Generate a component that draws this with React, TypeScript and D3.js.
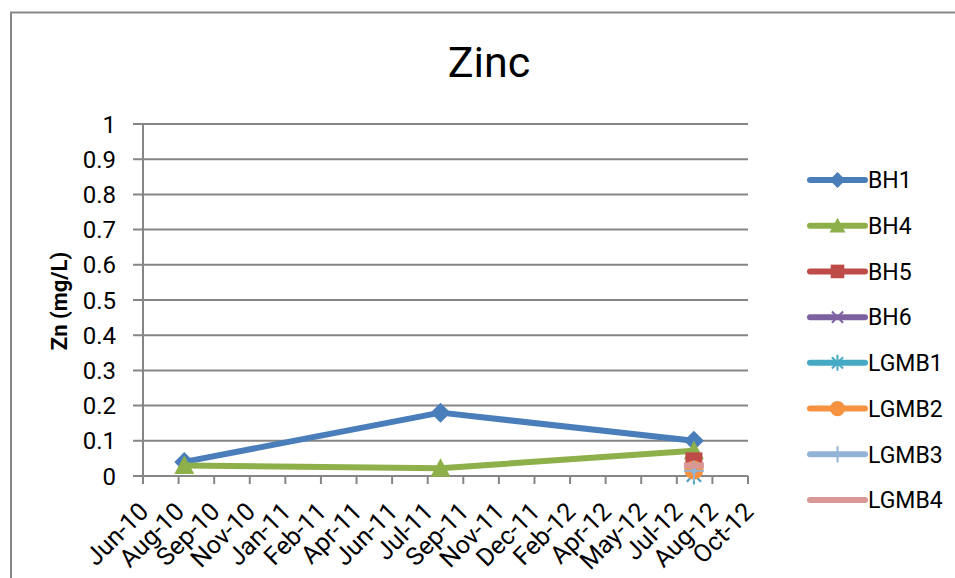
import React from "react";
import * as d3 from "d3";

const tickDates = [
  "2010-06-21", "2010-08-10", "2010-09-29", "2010-11-18", "2011-01-07", "2011-02-26",
  "2011-04-17", "2011-06-06", "2011-07-26", "2011-09-14", "2011-11-03", "2011-12-23",
  "2012-02-11", "2012-04-01", "2012-05-21", "2012-07-10", "2012-08-29", "2012-10-18",
];
const tickLabels = [
  "Jun-10", "Aug-10", "Sep-10", "Nov-10", "Jan-11", "Feb-11", "Apr-11", "Jun-11", "Jul-11",
  "Sep-11", "Nov-11", "Dec-11", "Feb-12", "Apr-12", "May-12", "Jul-12", "Aug-12", "Oct-12",
];
const yTicks = [0, 0.1, 0.2, 0.3, 0.4, 0.5, 0.6, 0.7, 0.8, 0.9, 1];

const sampleDates = ["2010-08-18", "2011-08-13", "2012-08-03"];
const seriesNames = ["BH1", "BH4", "BH5", "BH6", "LGMB1", "LGMB2", "LGMB3", "LGMB4"];
const bh1 = [0.04, 0.18, 0.1];
const bh4 = [0.03, 0.022, 0.072];
const bh5 = [null, null, 0.043];
const bh6 = [null, null, 0.004];
const lgmb1 = [null, null, 0.004];
const lgmb2 = [null, null, 0.017];
const lgmb3 = [null, null, 0.015];
const lgmb4 = [null, null, 0.03];
const seriesValues = [bh1, bh4, bh5, bh6, lgmb1, lgmb2, lgmb3, lgmb4];
const seriesColors = ["#4A7EBB", "#8EB04A", "#BE4B48", "#7D60A0", "#46AAC5", "#F69240", "#93B3D7", "#D99795"];
const seriesMarkers = ["diamond", "triangle", "square", "x", "star", "circle", "plus", "dash"];

const FONT = "Roboto, 'Noto Sans', sans-serif";

function Marker({ type, x, y, color, s }: { type: string; x: number; y: number; color: string; s: number }) {
  const h = s / 2;
  switch (type) {
    case "diamond":
      return <path d={`M${x},${y - h}L${x + h},${y}L${x},${y + h}L${x - h},${y}Z`} fill={color} />;
    case "triangle":
      return <path d={`M${x},${y - h}L${x + h},${y + h * 0.85}L${x - h},${y + h * 0.85}Z`} fill={color} />;
    case "square": {
      const q = h * 0.85;
      return <rect x={x - q} y={y - q} width={2 * q} height={2 * q} fill={color} />;
    }
    case "circle":
      return <circle cx={x} cy={y} r={h * 0.95} fill={color} />;
    case "x": {
      const q = h * 0.7;
      return <path d={`M${x - q},${y - q}L${x + q},${y + q}M${x - q},${y + q}L${x + q},${y - q}`} stroke={color} strokeWidth={2} />;
    }
    case "star": {
      const q = h * 0.7;
      return (
        <path
          d={`M${x - q},${y - q}L${x + q},${y + q}M${x - q},${y + q}L${x + q},${y - q}M${x},${y - h}L${x},${y + h}`}
          stroke={color}
          strokeWidth={2}
        />
      );
    }
    case "plus":
      return <path d={`M${x - h},${y}L${x + h},${y}M${x},${y - h}L${x},${y + h}`} stroke={color} strokeWidth={2} />;
    case "dash":
      return <rect x={x - h} y={y - 3} width={2 * h} height={6} fill={color} />;
    default:
      return null;
  }
}

export default function App() {
  const parse = d3.timeParse("%Y-%m-%d");
  const tDates = tickDates.map((d) => parse(d) as Date);
  const sDates = sampleDates.map((d) => parse(d) as Date);

  const x = d3.scaleTime().domain([tDates[0], tDates[tDates.length - 1]]).range([143, 748]);
  const y = d3.scaleLinear().domain([0, 1]).range([476, 124]);

  const lineGen = d3
    .line<[Date, number | null]>()
    .defined((d) => d[1] != null)
    .x((d) => x(d[0]))
    .y((d) => y(d[1] as number));

  const legendX0 = 810;
  const legendX1 = 865;
  const legendY = d3.scalePoint<string>().domain(seriesNames).range([180, 500]);

  return (
    <svg width={955} height={578} style={{ position: "absolute", left: 0, top: 0, background: "#fff" }} fontFamily={FONT}>
      <rect x={0} y={0} width={955} height={578} fill="#fff" />
      {/* chart border */}
      <path d="M11,600L11,12.5L980,12.5" fill="none" stroke="#888" strokeWidth={2} />

      {/* title */}
      <text x={489} y={77} textAnchor="middle" fontSize={43} fill="#000">
        Zinc
      </text>

      {/* gridlines */}
      {yTicks.map((t) => (
        <line key={"g" + t} x1={133} x2={748} y1={y(t)} y2={y(t)} stroke="#868686" strokeWidth={2} />
      ))}
      {/* y axis */}
      <line x1={143} x2={143} y1={y(1)} y2={y(0)} stroke="#868686" strokeWidth={2} />
      {yTicks.map((t) => (
        <text key={"yl" + t} x={116} y={y(t)} dy="0.36em" textAnchor="end" fontSize={24} fill="#000">
          {d3.format("")(t)}
        </text>
      ))}
      <text
        transform={`translate(67,${301}) rotate(-90)`}
        textAnchor="middle"
        fontSize={22}
        fontWeight="bold"
        fill="#000"
      >
        Zn (mg/L)
      </text>

      {/* x axis ticks */}
      {tDates.map((d, i) => (
        <line key={"xt" + i} x1={x(d)} x2={x(d)} y1={y(0)} y2={y(0) + 8} stroke="#868686" strokeWidth={2} />
      ))}
      {tDates.map((d, i) => (
        <text
          key={"xl" + i}
          transform={`translate(${x(d) + 7},${513}) rotate(-45)`}
          textAnchor="end"
          fontSize={25}
          fill="#000"
        >
          {tickLabels[i]}
        </text>
      ))}

      {/* series */}
      {seriesValues.map((vals, si) => {
        const pts = sDates.map((d, i) => [d, vals[i]] as [Date, number | null]);
        return (
          <g key={"s" + si}>
            <path d={lineGen(pts) || ""} fill="none" stroke={seriesColors[si]} strokeWidth={6} strokeLinejoin="round" strokeLinecap="round" />
            {pts
              .filter((p) => p[1] != null)
              .map((p, i) => (
                <Marker key={i} type={seriesMarkers[si]} x={x(p[0])} y={y(p[1] as number)} color={seriesColors[si]} s={20} />
              ))}
          </g>
        );
      })}

      {/* legend */}
      {seriesNames.map((n, si) => {
        const ly = legendY(n) as number;
        return (
          <g key={"lg" + n}>
            <line x1={legendX0} x2={legendX1} y1={ly} y2={ly} stroke={seriesColors[si]} strokeWidth={6} strokeLinecap="round" />
            <Marker type={seriesMarkers[si]} x={(legendX0 + legendX1) / 2} y={ly} color={seriesColors[si]} s={16} />
            <text x={868} y={ly} dy="0.36em" fontSize={23} fill="#000">
              {n}
            </text>
          </g>
        );
      })}
    </svg>
  );
}
